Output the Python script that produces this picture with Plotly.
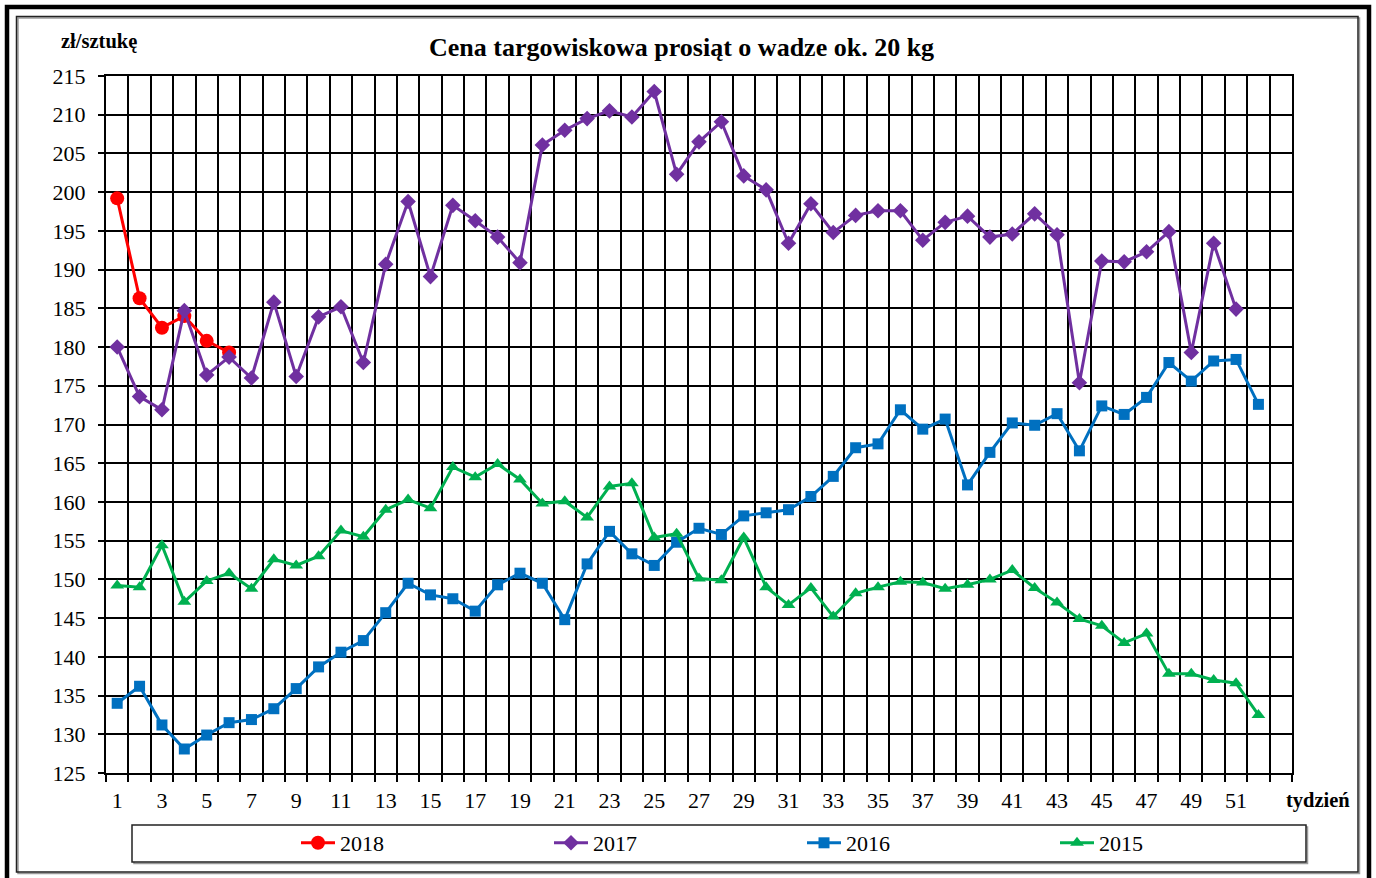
import plotly.graph_objects as go

# ---------------- data ----------------
weeks = list(range(1, 53))
weeks_2018 = weeks[:6]
weeks_2017 = weeks[:51]

price_2018 = [199.2, 186.3, 182.5, 184.0, 180.8, 179.3]

price_2017 = [180.0, 173.6, 171.9, 184.7, 176.4, 178.7, 176.0, 185.8, 176.2, 183.9,
              185.2, 178.0, 190.7, 198.8, 189.1, 198.3, 196.3, 194.2, 190.9, 206.1,
              208.0, 209.5, 210.5, 209.7, 213.0, 202.3, 206.5, 209.1, 202.1, 200.3,
              193.4, 198.5, 194.8, 197.0, 197.6, 197.6, 193.8, 196.1, 196.9, 194.2,
              194.6, 197.2, 194.5, 175.4, 191.1, 191.0, 192.3, 194.9, 179.3, 193.4,
              184.9]

price_2016 = [134.0, 136.2, 131.2, 128.1, 129.9, 131.5, 131.9, 133.3, 135.9, 138.7,
              140.6, 142.1, 145.7, 149.5, 148.0, 147.5, 145.9, 149.3, 150.8, 149.5,
              144.8, 152.0, 156.2, 153.3, 151.8, 154.8, 156.6, 155.8, 158.2, 158.6,
              159.0, 160.7, 163.3, 167.0, 167.5, 171.9, 169.4, 170.7, 162.2, 166.4,
              170.2, 169.9, 171.4, 166.6, 172.4, 171.3, 173.5, 178.0, 175.6, 178.2,
              178.4, 172.6]

price_2015 = [149.2, 149.0, 154.4, 147.1, 149.8, 150.8, 148.8, 152.6, 151.8, 153.0,
              156.3, 155.5, 159.0, 160.3, 159.2, 164.5, 163.2, 164.9, 162.9, 159.8,
              160.1, 158.0, 162.0, 162.4, 155.4, 155.9, 150.1, 149.9, 155.4, 149.0,
              146.7, 148.9, 145.2, 148.2, 149.0, 149.7, 149.6, 148.8, 149.3, 150.0,
              151.2, 148.9, 147.0, 144.9, 144.0, 141.8, 143.0, 137.8, 137.8, 137.0,
              136.6, 132.5]

x_tick_labels = [str(w) for w in range(1, 52, 2)]
y_ticks = list(range(125, 216, 5))

title_text = "Cena targowiskowa prosiąt o wadze ok. 20 kg"
y_unit = "zł/sztukę"
x_unit = "tydzień"

# ---------------- layout geometry ----------------
W, H = 1376, 878
L, R, T, B = 106, 1292, 76, 773   # plot area in pixels
PW, PH = R - L, B - T

def px(x):
    return (x - L) / PW

def py(y):
    return (B - y) / PH

FONT = "Liberation Serif, Times New Roman, serif"

fig = go.Figure()

series = [
    ("2018", weeks_2018, price_2018, "#FF0000", "circle", 14),
    ("2017", weeks_2017, price_2017, "#7030A0", "diamond", 12),
    ("2016", weeks, price_2016, "#0070C0", "square", 11),
    ("2015", weeks, price_2015, "#00B050", "triangle-up", 12),
]
for name, xs, ys, color, sym, size in series:
    fig.add_trace(go.Scatter(
        x=xs, y=ys, name=name, mode="lines+markers",
        line=dict(color=color, width=3),
        marker=dict(symbol=sym, size=size, color=color),
    ))

shapes = [
    # outer thick frame
    dict(type="rect", xref="paper", yref="paper",
         x0=px(7), x1=px(1369), y0=py(884), y1=py(7),
         line=dict(color="black", width=4.5), layer="below"),
    # inner thin frame shadow
    dict(type="rect", xref="paper", yref="paper",
         x0=px(18), x1=px(1359.5), y0=py(873.5), y1=py(18),
         line=dict(color="#9a9a9a", width=1.5), layer="below"),
    # inner thin frame
    dict(type="rect", xref="paper", yref="paper",
         x0=px(16.5), x1=px(1358), y0=py(872), y1=py(16.5),
         line=dict(color="#222222", width=1.5), layer="below"),
    # legend box shadow
    dict(type="rect", xref="paper", yref="paper",
         x0=px(134), x1=px(1307.5), y0=py(863.5), y1=py(827),
         line=dict(color="#9a9a9a", width=1.5), layer="below"),
    # legend box
    dict(type="rect", xref="paper", yref="paper",
         x0=px(132), x1=px(1306), y0=py(862), y1=py(825),
         line=dict(color="#222222", width=1.5), fillcolor="white", layer="below"),
]

annotations = [
    dict(text="<b>" + title_text + "</b>", xref="paper", yref="paper",
         x=px(681), y=py(47), xanchor="center", yanchor="middle", showarrow=False,
         font=dict(family=FONT, size=26, color="black")),
    dict(text="<b>" + y_unit + "</b>", xref="paper", yref="paper",
         x=px(59), y=py(42), xanchor="left", yanchor="middle", showarrow=False,
         font=dict(family=FONT, size=20.5, color="black")),
    dict(text="<b>" + x_unit + "</b>", xref="paper", yref="paper",
         x=px(1284), y=py(800), xanchor="left", yanchor="middle", showarrow=False,
         font=dict(family=FONT, size=20.5, color="black")),
]

fig.update_layout(
    width=W, height=H,
    margin=dict(l=L, r=W - R, t=T, b=H - B, pad=0),
    paper_bgcolor="white", plot_bgcolor="white",
    font=dict(family=FONT, size=22, color="black"),
    showlegend=True,
    legend=dict(orientation="h", x=px(296), xanchor="left", y=py(843), yanchor="middle",
                entrywidth=204, entrywidthmode="pixels", itemwidth=34,
                bgcolor="rgba(0,0,0,0)", borderwidth=0,
                font=dict(family=FONT, size=22, color="black"),
                itemclick=False, itemdoubleclick=False),
    shapes=shapes,
    annotations=annotations,
)

fig.update_xaxes(
    type="linear", range=[0.5, 53.5],
    tickmode="array", tickvals=list(range(1, 52, 2)), ticktext=x_tick_labels,
    ticks="", showgrid=False, zeroline=False,
    showline=True, mirror=True, linecolor="black", linewidth=2,
    ticklabelstandoff=7,
    tickfont=dict(family=FONT, size=22, color="black"),
    minor=dict(tick0=0.5, dtick=1, ticks="outside", ticklen=7, tickwidth=1.5,
               tickcolor="black", showgrid=True, gridcolor="black", gridwidth=1.5),
)
fig.update_yaxes(
    range=[125, 215], tickmode="array", tickvals=y_ticks,
    ticks="outside", ticklen=6, tickwidth=1.5, tickcolor="black",
    showgrid=True, gridcolor="black", gridwidth=1.5, zeroline=False,
    showline=True, mirror=True, linecolor="black", linewidth=2,
    ticklabelstandoff=8,
    tickfont=dict(family=FONT, size=22, color="black"),
)

fig.write_html("out.html", config={"displayModeBar": False},
               post_script="document.body.style.margin='0px';")
